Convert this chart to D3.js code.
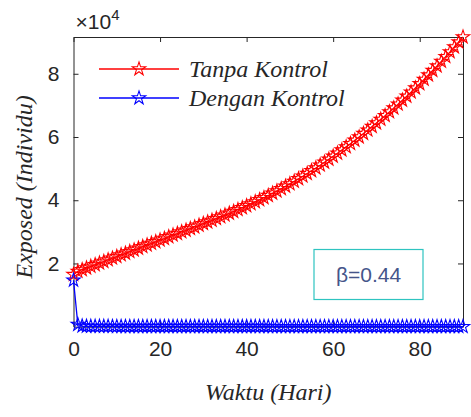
<!DOCTYPE html>
<html>
<head>
<meta charset="utf-8">
<script src="https://cdn.jsdelivr.net/npm/d3@7"></script>
<style>
  html, body { margin: 0; padding: 0; background: #ffffff; }
  svg { display: block; }
</style>
</head>
<body>
<div id="chart"></div>
<script>
// Exposed population over 90 days, with and without control
const days = d3.range(0, 91);

const tanpaKontrol = [
  16500, 17500, 18020, 18540, 19060, 19580, 20100, 20620, 21140, 21660,
  22180, 22700, 23220, 23740, 24260, 24780, 25300, 25820, 26340, 26860,
  27380, 27900, 28420, 28940, 29460, 29980, 30500, 31020, 31540, 32060,
  32580, 33100, 33630, 34170, 34720, 35280, 35850, 36430, 37020, 37620,
  38230, 38850, 39480, 40130, 40790, 41480, 42180, 42900, 43640, 44390,
  45170, 45960, 46770, 47600, 48440, 49310, 50190, 51090, 52010, 52940,
  53900, 54870, 55860, 56870, 57890, 58940, 60000, 61080, 62180, 63290,
  64430, 65580, 66750, 67940, 69140, 70370, 71610, 72880, 74170, 75490,
  76830, 78200, 79590, 81010, 82450, 83920, 85410, 86930, 88470, 90040,
  91630
];

const denganKontrol = [
  14700, 700, 200, 110, 95, 88, 84, 80, 76, 73,
  70, 68, 66, 64, 62, 60, 58, 57, 55, 54,
  52, 51, 50, 49, 47, 46, 45, 44, 43, 42,
  41, 40, 39, 38, 37, 37, 36, 35, 34, 34,
  33, 32, 32, 31, 30, 30, 29, 29, 28, 27,
  27, 26, 26, 25, 25, 24, 24, 23, 23, 22,
  22, 22, 21, 21, 20, 20, 20, 19, 19, 19,
  18, 18, 18, 17, 17, 17, 16, 16, 16, 16,
  15, 15, 15, 15, 14, 14, 14, 14, 13, 13,
  13
];

const seriesNames = ["Tanpa Kontrol", "Dengan Kontrol"];
const seriesColors = ["#ff0000", "#0000ff"];
const xTicks = [0, 20, 40, 60, 80];
const yTicks = [20000, 40000, 60000, 80000];
const yExponent = 4;
const annotation = "β=0.44";

const W = 471, H = 417;
const margin = { left: 73.5, top: 37, right: W - 463, bottom: H - 326.7 };
const iw = W - margin.left - margin.right;
const ih = H - margin.top - margin.bottom;

const axisColor = "#262626";
const tickFont = "'Liberation Sans', Arial, sans-serif";
const labelFont = "'Liberation Serif', 'Times New Roman', serif";

const svg = d3.select("#chart").append("svg")
  .attr("width", W).attr("height", H);

const g = svg.append("g")
  .attr("transform", `translate(${margin.left},${margin.top})`);

const x = d3.scaleLinear().domain([0, d3.max(days)]).range([0, iw]);
const y = d3.scaleLinear().domain([0, d3.max(tanpaKontrol)]).range([ih, 0]);

// Box axes with inward ticks on all four sides
function styleAxis(sel) {
  sel.select(".domain").attr("stroke", axisColor).attr("stroke-width", 1);
  sel.selectAll(".tick line").attr("stroke", axisColor).attr("stroke-width", 1);
  sel.selectAll(".tick text")
    .attr("fill", axisColor)
    .style("font-family", tickFont)
    .style("font-size", "21px");
}

const fmtY = d => String(d / Math.pow(10, yExponent));

g.append("g").attr("transform", `translate(0,${ih})`)
  .call(d3.axisBottom(x).tickValues(xTicks).tickSize(-5).tickSizeOuter(0).tickPadding(14))
  .call(styleAxis);
g.append("g")
  .call(d3.axisTop(x).tickValues(xTicks).tickSize(-5).tickSizeOuter(0).tickFormat(""))
  .call(styleAxis);
g.append("g")
  .call(d3.axisLeft(y).tickValues(yTicks).tickSize(-5).tickSizeOuter(0).tickPadding(14).tickFormat(fmtY))
  .call(styleAxis);
g.append("g").attr("transform", `translate(${iw},0)`)
  .call(d3.axisRight(y).tickValues(yTicks).tickSize(-5).tickSizeOuter(0).tickFormat(""))
  .call(styleAxis);

// Exponent label above the y axis
const expText = svg.append("text")
  .attr("x", margin.left + 2).attr("y", 29)
  .attr("fill", axisColor)
  .style("font-family", tickFont)
  .style("font-size", "21px");
expText.append("tspan").text("×10");
expText.append("tspan").attr("dy", -9).style("font-size", "15px").text(String(yExponent));

// Series: lines with pentagram markers
const star = d3.symbol().type(d3.symbolStar).size(56);
const seriesData = [tanpaKontrol, denganKontrol];

seriesData.forEach((vals, i) => {
  const pts = days.map((d, k) => [d, vals[k]]);
  g.append("path")
    .datum(pts)
    .attr("fill", "none")
    .attr("stroke", seriesColors[i])
    .attr("stroke-width", 1.3)
    .attr("d", d3.line().x(p => x(p[0])).y(p => y(p[1])));
  g.append("g").selectAll("path")
    .data(pts)
    .join("path")
    .attr("transform", p => `translate(${x(p[0])},${y(p[1])})`)
    .attr("d", star)
    .attr("fill", "none")
    .attr("stroke", seriesColors[i])
    .attr("stroke-width", 1.1);
});

// Legend (no frame)
const legend = svg.append("g");
seriesNames.forEach((name, i) => {
  const ly = 69 + i * 29;
  legend.append("line")
    .attr("x1", 99).attr("x2", 179).attr("y1", ly).attr("y2", ly)
    .attr("stroke", seriesColors[i]).attr("stroke-width", 1.3);
  legend.append("path")
    .attr("transform", `translate(139,${ly})`)
    .attr("d", star)
    .attr("fill", "none")
    .attr("stroke", seriesColors[i])
    .attr("stroke-width", 1.1);
  legend.append("text")
    .attr("x", 189).attr("y", ly + 8)
    .attr("fill", axisColor)
    .style("font-family", labelFont)
    .style("font-style", "italic")
    .style("font-size", "24px")
    .text(name);
});

// Parameter annotation box
svg.append("rect")
  .attr("x", 314).attr("y", 249.5).attr("width", 109).attr("height", 50)
  .attr("fill", "#ffffff").attr("stroke", "#2ec4c0").attr("stroke-width", 1.2);
svg.append("text")
  .attr("x", 368.5).attr("y", 282)
  .attr("text-anchor", "middle")
  .attr("fill", "#45558a")
  .style("font-family", tickFont)
  .style("font-size", "21px")
  .text(annotation);

// Axis titles
svg.append("text")
  .attr("x", margin.left + iw / 2).attr("y", 400)
  .attr("text-anchor", "middle")
  .attr("fill", axisColor)
  .style("font-family", labelFont)
  .style("font-style", "italic")
  .style("font-size", "24px")
  .text("Waktu (Hari)");

svg.append("text")
  .attr("transform", `translate(32,${margin.top + ih / 2 + 5}) rotate(-90)`)
  .attr("text-anchor", "middle")
  .attr("fill", axisColor)
  .style("font-family", labelFont)
  .style("font-style", "italic")
  .style("font-size", "24px")
  .text("Exposed (Individu)");
</script>
</body>
</html>
